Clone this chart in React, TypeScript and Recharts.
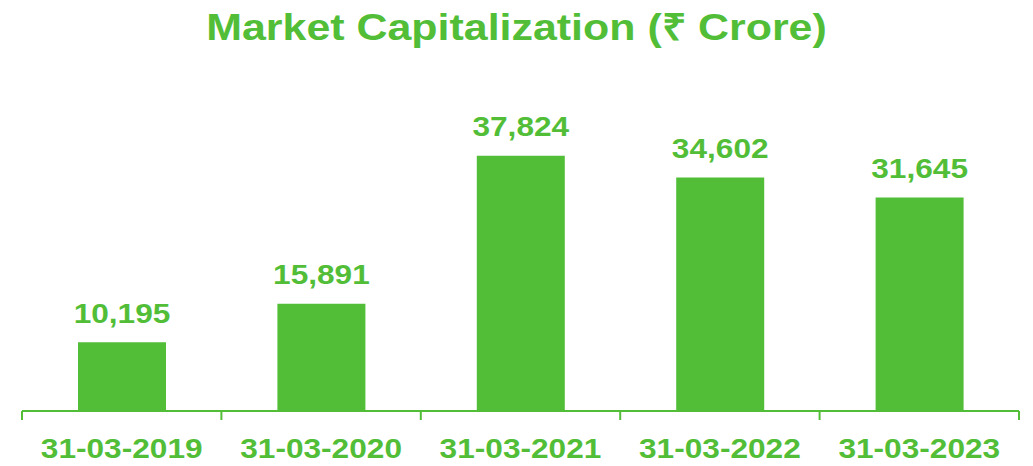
import { BarChart, Bar, XAxis, YAxis, LabelList } from 'recharts';

const dates = ['31-03-2019', '31-03-2020', '31-03-2021', '31-03-2022', '31-03-2023'];
const marketCap = [10195, 15891, 37824, 34602, 31645];

const GREEN = '#52BE38';
const FONT = '"Liberation Sans", Arial, sans-serif';
const STRETCH = 1.13;

const data = dates.map((d, i) => ({ date: d, value: marketCap[i] }));

// category label plus tick marks on the band edges
const DateTick = ({ x, y, payload, index, visibleTicksCount }: any) => {
  const half = payload?.offset ?? 0;
  const last = index === (visibleTicksCount ?? dates.length) - 1;
  return (
    <g>
      <line x1={x - half} x2={x - half} y1={y} y2={y + 9} stroke={GREEN} strokeWidth={2} />
      {last && <line x1={x + half} x2={x + half} y1={y} y2={y + 9} stroke={GREEN} strokeWidth={2} />}
      <text
        transform={`translate(${x},${y + 47}) scale(${STRETCH},1)`}
        textAnchor="middle"
        fill={GREEN}
        fontFamily={FONT}
        fontWeight="bold"
        fontSize={28}
      >
        {payload.value}
      </text>
    </g>
  );
};

const ValueLabel = ({ x, y, width, value }: any) => (
  <text
    transform={`translate(${x + width / 2},${y - 19.5}) scale(${STRETCH},1)`}
    textAnchor="middle"
    fill={GREEN}
    fontFamily={FONT}
    fontWeight="bold"
    fontSize={28}
  >
    {Number(value).toLocaleString('en-US')}
  </text>
);

export default function App() {
  return (
    <div style={{ position: 'absolute', left: 0, top: 0, width: 1033, height: 466, background: '#fff' }}>
      <div
        style={{
          position: 'absolute', left: 0, top: 7, width: 1033, textAlign: 'center',
          fontFamily: FONT, fontWeight: 'bold', fontSize: 37, color: GREEN,
          transform: 'scaleX(1.16)', lineHeight: '42px',
        }}
      >
        Market Capitalization (₹ Crore)
      </div>
      <BarChart
        width={1033}
        height={466}
        data={data}
        margin={{ top: 141, right: 14, bottom: 0, left: 22 }}
      >
        <XAxis
          dataKey="date"
          stroke={GREEN}
          strokeWidth={2}
          tickLine={false}
          tickSize={0}
          tickMargin={0}
          height={55}
          interval={0}
          tick={<DateTick />}
        />
        <YAxis hide domain={[0, 40000]} />
        <Bar dataKey="value" fill={GREEN} barSize={88} isAnimationActive={false}>
          <LabelList dataKey="value" content={<ValueLabel />} />
        </Bar>
      </BarChart>
    </div>
  );
}
